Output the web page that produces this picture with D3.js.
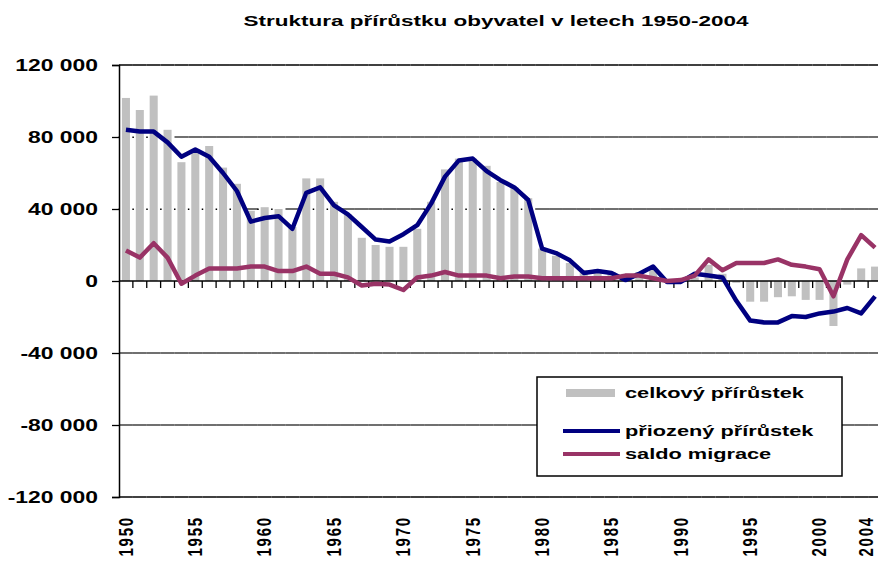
<!DOCTYPE html>
<html lang="cs">
    <head>
        <meta charset="utf-8">
        <title>Struktura přírůstku obyvatel</title>
        <script src="https://d3js.org/d3.v7.min.js"></script>
        <style>
            body { margin: 0; background: #fff; }
            text { font-family: "Liberation Sans", Arial, sans-serif; font-weight: bold; }
        </style>
    </head>
    <body>
        <div id="dataviz"></div>
        <script>
            // data (values in persons)
            var years = d3.range(1950, 2005);
            var yearLabels = [1950, 1955, 1960, 1965, 1970, 1975, 1980, 1985, 1990, 1995, 2000, 2004];
            var yTicks = [120000, 80000, 40000, 0, -40000, -80000, -120000];
            var seriesNames = ["celkový přírůstek", "přiozený přírůstek", "saldo migrace"];

            var celkovy = [101700, 95000, 103000, 84000, 66000, 73000, 75000, 63000, 54000, 39000,
                           41000, 40000, 30000, 57000, 57000, 44000, 37000, 24000, 20000, 19000,
                           19000, 29000, 44000, 62000, 68000, 68000, 64000, 55000, 52000, 46000,
                           18000, 14000, 10000, 6000, 6500, 5000, 4000, 5000, 7000, 1000,
                           500, 2000, 9000, 4000, -1000, -11500, -11500, -9000, -8500, -10500,
                           -10500, -25000, -2000, 7000, 8000];
            var prirozeny = [84000, 83000, 83000, 77000, 69000, 73000, 69000, 60000, 50000, 33000,
                             35000, 36000, 29000, 49000, 52000, 42000, 37000, 30000, 23000, 22000,
                             26000, 31000, 43000, 58000, 67000, 68000, 61000, 56000, 52000, 45000,
                             18000, 15500, 11500, 4500, 5500, 4500, 500, 4000, 8000, -500,
                             -500, 4000, 3000, 2000, -11000, -22000, -23000, -23000, -19500, -20000,
                             -18000, -17000, -15000, -18000, -8500];
            var migrace = [17000, 13000, 21000, 13000, -1500, 3000, 7000, 7000, 7000, 8000,
                           8000, 5500, 5500, 8000, 4000, 4000, 2000, -2500, -1500, -2000,
                           -5000, 2000, 3000, 5000, 3000, 3000, 3000, 1500, 2500, 2500,
                           1500, 1500, 1500, 1500, 1500, 1500, 3000, 3000, 1500, 0,
                           500, 3000, 12000, 6000, 10000, 10000, 10000, 12000, 9000, 8000,
                           6500, -8500, 12000, 25500, 18500];

            var width = 878, height = 565;
            var SX = 1.45;   // the original chart is stretched sideways
            var grey = "#c0c0c0", blue = "#000080", plum = "#993366";

            var svg = d3.select("#dataviz")
                        .append("svg")
                        .attr("width", width)
                        .attr("height", height);

            var x = d3.scaleBand()
                        .domain(years)
                        .range([119, 882])
                        .paddingInner(0.42)
                        .paddingOuter(0.21);
            var step = x.step();
            var edge = function(yr) { return x(yr) - step * 0.21; };
            var mid = function(yr) { return x(yr) + x.bandwidth() / 2; };

            var y = d3.scaleLinear()
                        .domain([-120000, 120000])
                        .range([497, 65]);

            // grid lines; behind tall bars only the dots in the gaps show
            yTicks.filter(function(v) { return v != 0; }).forEach(function(g) {
                years.forEach(function(yr, i) {
                    var v = celkovy[i];
                    var hidden = (g > 0 && v >= g) || (g < 0 && v <= g);
                    if (hidden) {
                        svg.append("rect")
                            .attr("x", edge(yr) - 0.5).attr("y", y(g) - 0.5)
                            .attr("width", 1.5).attr("height", 1.5)
                            .attr("fill", "#000");
                    } else {
                        svg.append("line")
                            .attr("x1", edge(yr)).attr("x2", edge(yr) + step)
                            .attr("y1", y(g)).attr("y2", y(g))
                            .attr("stroke", "#111")
                            .attr("stroke-width", Math.abs(g) == 120000 ? 1.6 : 1.2);
                    }
                });
            });

            // bars
            svg.selectAll(".bar")
                .data(years)
                .enter()
                .append("rect")
                .attr("class", "bar")
                .attr("x", function(d) { return x(d); })
                .attr("width", x.bandwidth())
                .attr("y", function(d, i) { return y(Math.max(0, celkovy[i])); })
                .attr("height", function(d, i) { return Math.abs(y(celkovy[i]) - y(0)); })
                .attr("fill", grey);

            // category axis at zero
            svg.append("line")
                .attr("x1", 119).attr("x2", 882)
                .attr("y1", y(0)).attr("y2", y(0))
                .attr("stroke", "#000").attr("stroke-width", 1.5);
            svg.selectAll(".xtick")
                .data(years.slice(1))
                .enter()
                .append("line")
                .attr("class", "xtick")
                .attr("x1", function(d) { return edge(d); })
                .attr("x2", function(d) { return edge(d); })
                .attr("y1", y(0)).attr("y2", y(0) + 7)
                .attr("stroke", "#000").attr("stroke-width", 1.3);

            // value axis
            var loc = d3.formatLocale({decimal: ",", thousands: " ", grouping: [3], currency: ["", ""], minus: "-"});
            var fmt = loc.format(",");
            var yAxis = svg.append("g")
                .attr("transform", "translate(119,0)")
                .call(d3.axisLeft(y).tickValues(yTicks).tickSize(7).tickFormat(fmt));
            yAxis.select(".domain").attr("stroke", "#000").attr("stroke-width", 1.5);
            yAxis.selectAll(".tick line").attr("stroke", "#000").attr("stroke-width", 1.3);
            yAxis.selectAll("text")
                .attr("font-size", "15.8px")
                .attr("font-family", "Liberation Sans, Arial, sans-serif")
                .attr("font-weight", "bold")
                .attr("fill", "#000")
                .attr("x", -21 / SX)
                .attr("transform", "scale(" + SX + ",1)");

            // lines
            var line = function(vals) {
                return d3.line()
                    .x(function(d) { return mid(d); })
                    .y(function(d, i) { return y(vals[i]); })(years);
            };
            svg.append("path").attr("d", line(prirozeny))
                .attr("fill", "none").attr("stroke", blue)
                .attr("stroke-width", 4.5).attr("stroke-linejoin", "round");
            svg.append("path").attr("d", line(migrace))
                .attr("fill", "none").attr("stroke", plum)
                .attr("stroke-width", 4.5).attr("stroke-linejoin", "round");

            // year labels, rotated; keep the last one inside the picture
            svg.selectAll(".ylab")
                .data(yearLabels)
                .enter()
                .append("text")
                .attr("class", "ylab")
                .attr("transform", function(d) {
                    return "translate(" + Math.min(mid(d), width - 12) + ",516) rotate(-90) scale(1,1.3)";
                })
                .attr("text-anchor", "end")
                .attr("dy", "0.35em")
                .attr("font-size", "15px")
                .attr("letter-spacing", "1.8px")
                .text(function(d) { return d; });

            // title
            svg.append("text")
                .attr("transform", "translate(496,26) scale(1.5,1)")
                .attr("text-anchor", "middle")
                .attr("font-size", "15px")
                .text("Struktura přírůstku obyvatel v letech 1950-2004");

            // legend
            var lg = svg.append("g");
            lg.append("rect")
                .attr("x", 537).attr("y", 377)
                .attr("width", 305).attr("height", 99)
                .attr("fill", "#fff").attr("stroke", "#000").attr("stroke-width", 1.5);
            var rows = [393, 431, 454];
            lg.append("rect").attr("x", 566).attr("y", rows[0] - 4).attr("width", 49).attr("height", 8).attr("fill", grey);
            lg.append("line").attr("x1", 563).attr("x2", 620).attr("y1", rows[1]).attr("y2", rows[1])
                .attr("stroke", blue).attr("stroke-width", 4);
            lg.append("line").attr("x1", 563).attr("x2", 620).attr("y1", rows[2]).attr("y2", rows[2])
                .attr("stroke", plum).attr("stroke-width", 4);
            seriesNames.forEach(function(name, i) {
                lg.append("text")
                    .attr("transform", "translate(625," + rows[i] + ") scale(" + SX + ",1)")
                    .attr("dy", "0.35em")
                    .attr("font-size", "15px")
                    .text(name);
            });
        </script>
    </body>
</html>
